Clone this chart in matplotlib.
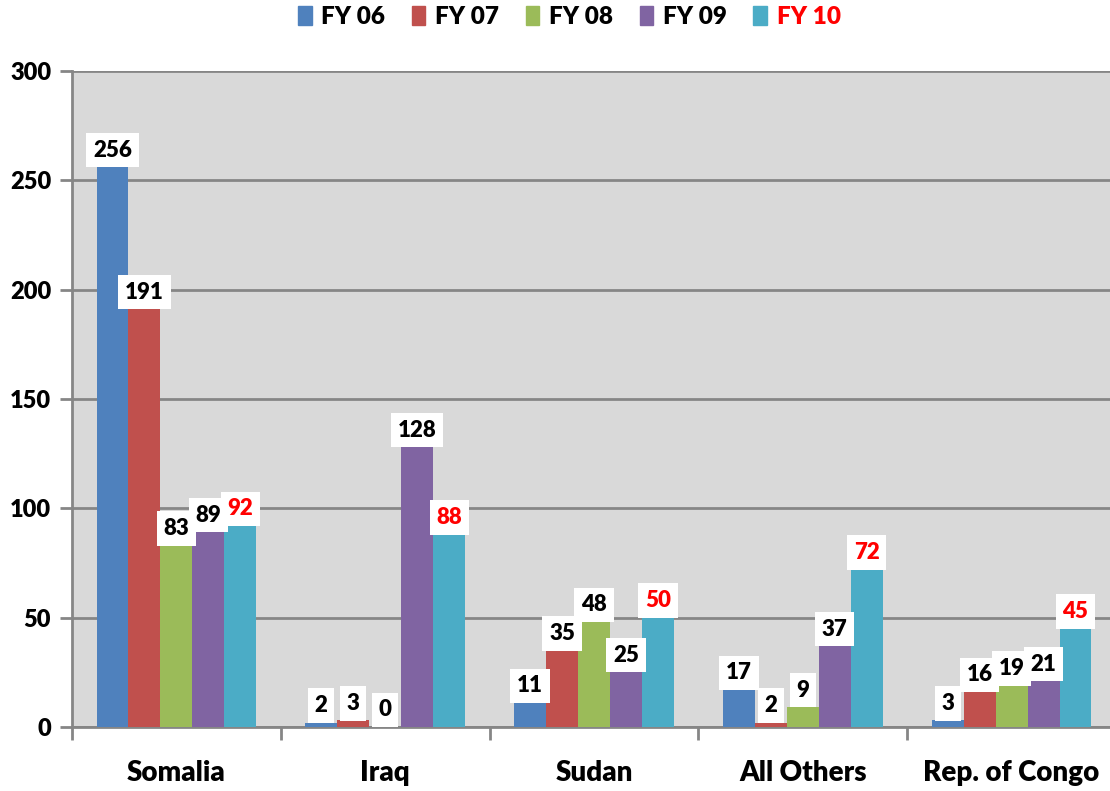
import matplotlib
matplotlib.use("Agg")
import matplotlib.pyplot as plt
import numpy as np

categories = ["Somalia", "Iraq", "Sudan", "All Others", "Rep. of Congo"]
series_names = ["FY 06", "FY 07", "FY 08", "FY 09", "FY 10"]
fy06 = [256, 2, 11, 17, 3]
fy07 = [191, 3, 35, 2, 16]
fy08 = [83, 0, 48, 9, 19]
fy09 = [89, 128, 25, 37, 21]
fy10 = [92, 88, 50, 72, 45]
series = [fy06, fy07, fy08, fy09, fy10]
colors = ["#4F81BD", "#C0504D", "#9BBB59", "#8064A2", "#4BACC6"]
label_colors = ["black", "black", "black", "black", "red"]
yticks = [0, 50, 100, 150, 200, 250, 300]

plt.rcParams['font.family'] = ['Lato', 'DejaVu Sans']
WT = "heavy"

W, H = 1110, 791
fig = plt.figure(figsize=(W / 100, H / 100), dpi=100)
ax_left = 72 / W
ax_right = 1116 / W
ax_bottom = (H - 727) / H
ax_top = (H - 71) / H
ax = fig.add_axes([ax_left, ax_bottom, ax_right - ax_left, ax_top - ax_bottom])
ax.set_facecolor("#D9D9D9")

n = len(series)
bw = 0.153
x = np.arange(len(categories))
for i, (vals, c) in enumerate(zip(series, colors)):
    pos = x + (i - (n - 1) / 2) * bw
    ax.bar(pos, vals, width=bw, color=c, zorder=3)
    for p, v in zip(pos, vals):
        ax.text(p, v + 3.0, str(v), ha="center", va="bottom", fontsize=16,
                fontweight=WT, color=label_colors[i], zorder=5 + i,
                bbox=dict(boxstyle="square,pad=0.3", fc="white", ec="none"))

ax.set_xlim(-0.5, len(categories) - 0.5)
ax.set_ylim(0, 300)
ax.set_yticks(yticks)
ax.set_yticklabels([str(t) for t in yticks], fontsize=17, fontweight=WT)
ax.yaxis.grid(True, color="#868686", linewidth=2, zorder=1)
ax.set_axisbelow(True)

ax.set_xticks(np.arange(len(categories) + 1) - 0.5)
ax.set_xticklabels([])
ax.set_xticks(x, minor=True)
ax.set_xticklabels(categories, minor=True, fontsize=20, fontweight=WT)
ax.tick_params(axis="x", which="minor", length=0, pad=24)
ax.tick_params(axis="x", which="major", length=9, width=2, color="#868686")
ax.tick_params(axis="y", length=9, width=2, color="#868686", pad=6)

for s in ["top", "right"]:
    ax.spines[s].set_visible(False)
for s in ["left", "bottom"]:
    ax.spines[s].set_color("#868686")
    ax.spines[s].set_linewidth(2)

handles = [plt.Rectangle((0, 0), 1, 1, color=c) for c in colors]
leg = fig.legend(handles, series_names, loc="center", bbox_to_anchor=(0.513, (H - 17) / H),
                 ncol=5, frameon=False, prop=dict(size=17.5, weight=WT),
                 handlelength=0.55, handleheight=0.8, handletextpad=0.4, columnspacing=1.1)
leg.get_texts()[4].set_color("red")

fig.savefig("out.png", dpi=100)
